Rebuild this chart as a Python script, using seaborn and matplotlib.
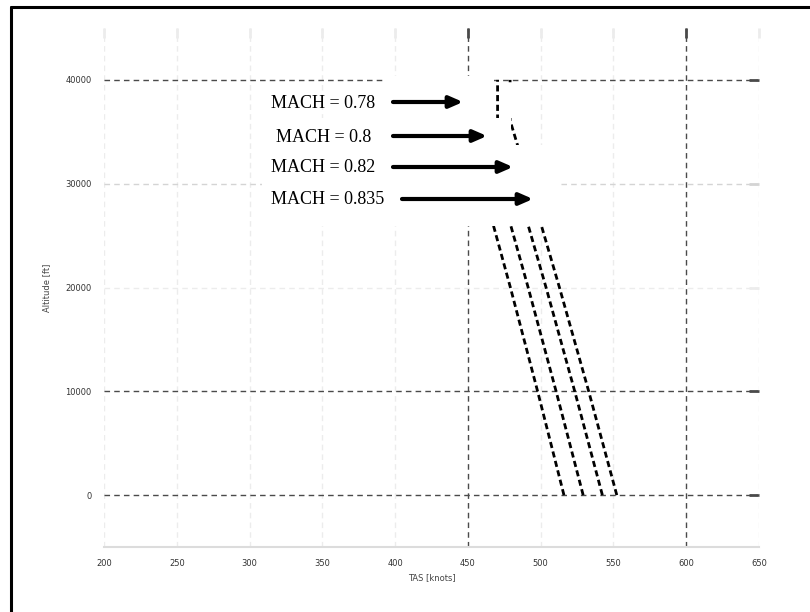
import numpy as np
import pandas as pd
import matplotlib
matplotlib.use("Agg")
import matplotlib.pyplot as plt
import seaborn as sns
from matplotlib.lines import Line2D
from matplotlib.patches import Rectangle

# Altitude (ft) and true airspeed (knots) at constant Mach number
altitude_ft = [0, 10000, 20000, 30000, 36089, 40000]
tas_m078 = [516.0, 497.9, 479.2, 459.7, 447.4, 447.4]
tas_m080 = [529.2, 510.6, 491.4, 471.4, 458.9, 458.9]
tas_m082 = [542.4, 523.4, 503.7, 483.2, 470.4, 470.4]
tas_m0835 = [552.3, 533.0, 512.9, 492.1, 479.0, 479.0]
mach_labels = ["MACH = 0.78", "MACH = 0.8", "MACH = 0.82", "MACH = 0.835"]

x_ticks = [200, 250, 300, 350, 400, 450, 500, 550, 600, 650]
y_ticks = [0, 10000, 20000, 30000, 40000]
x_label = "TAS [knots]"
y_label = "Altitude [ft]"

series = [tas_m078, tas_m080, tas_m082, tas_m0835]
df = pd.concat(
    [pd.DataFrame({"tas": s, "alt": altitude_ft, "mach": m})
     for s, m in zip(series, mach_labels)],
    ignore_index=True,
)

sns.set_theme(style="white")
W, H = 810, 612
fig = plt.figure(figsize=(W / 100, H / 100), dpi=100)
ax_l, ax_r, ax_t, ax_b = 104, 759, 28, 547
ax = fig.add_axes([ax_l / W, 1 - ax_b / H, (ax_r - ax_l) / W, (ax_b - ax_t) / H])


def frac(px, py):
    """Layout pixel position -> axes fraction."""
    return ((px - ax_l) / (ax_r - ax_l), (ax_b - py) / (ax_b - ax_t))


sns.lineplot(
    data=df, x="tas", y="alt", hue="mach", units="mach", estimator=None,
    sort=False, palette=["black"] * 4, legend=False, ax=ax, zorder=2,
    linewidth=2.0,
)
for ln in ax.get_lines():
    ln.set_linestyle((0, (2.2, 1.3)))

ax.set_xlim(200, 650)
ax.set_ylim(-5000, 45000)
ax.set_xticks(x_ticks)
ax.set_yticks(y_ticks)
ax.set_xticklabels([str(v) for v in x_ticks])
ax.set_yticklabels([str(v) for v in y_ticks])
ax.set_xlabel(x_label, fontsize=6, color="#444", labelpad=3)
ax.set_ylabel(y_label, fontsize=6, color="#444", labelpad=10)

# dashed grid, a few lines darker than the rest
dark, light, faint = "#4a4a4a", "#d4d4d4", "#ececec"
x_grid_col = [faint, faint, faint, faint, faint, dark, faint, faint, dark, faint]
y_grid_col = [dark, dark, faint, light, dark]
for v, c in zip(x_ticks, x_grid_col):
    ax.axvline(v, color=c, ls=(0, (4, 3)), lw=1.0, zorder=1)
for v, c in zip(y_ticks, y_grid_col):
    ax.axhline(v, color=c, ls=(0, (4, 3)), lw=1.0, zorder=1)

ax.tick_params(direction="in", length=7, width=2, pad=9, labelsize=6,
               labelcolor="#333", top=True, right=True)


def tint_ticks(axis, colors):
    for t, c in zip(axis.get_major_ticks(), colors):
        for tl in (t.tick1line, t.tick2line):
            tl.set_color(c)
            tl.set_markeredgecolor(c)
            tl.set_markerfacecolor(c)


tint_ticks(ax.xaxis, x_grid_col)
tint_ticks(ax.yaxis, y_grid_col)

for side in ["top", "right", "left"]:
    ax.spines[side].set_visible(False)
ax.spines["bottom"].set_color("#dcdcdc")
ax.spines["bottom"].set_linewidth(1.5)

# white label panels laid over the upper part of the curves
panels = [(383, 76, 494, 120), (502, 83, 530, 118),
          (262, 118, 511, 150), (262, 145, 560, 226)]
for x0, y0, x1, y1 in panels:
    fx0, fy1 = frac(x0, y1)
    fx1, fy0 = frac(x1, y0)
    ax.add_patch(Rectangle((fx0, fy1), fx1 - fx0, fy0 - fy1,
                           transform=ax.transAxes, facecolor="white",
                           edgecolor="none", zorder=3, clip_on=False))

# Mach labels with arrows pointing at each curve
label_pos = [(323, 104), (324, 137), (323, 168), (328, 199)]
arrow_pos = [((393, 102), (463, 102)), ((393, 136), (487, 136)),
             ((393, 167), (513, 167)), ((402, 199), (533, 199))]
for lab, (tx, ty), (a0, a1) in zip(mach_labels, label_pos, arrow_pos):
    ax.text(*frac(tx, ty), lab, transform=ax.transAxes, ha="center",
            va="center", fontsize=13, family="Liberation Serif",
            color="black", zorder=5)
    ax.annotate("", xy=frac(*a1), xytext=frac(*a0), xycoords="axes fraction",
                textcoords="axes fraction", zorder=5,
                arrowprops=dict(arrowstyle="-|>,head_length=0.8,head_width=0.35",
                                mutation_scale=10, lw=3, color="black",
                                shrinkA=0, shrinkB=0))

# outer frame lines
fig.add_artist(Line2D([11 / W, 1.0], [1 - 7 / H, 1 - 7 / H],
                      transform=fig.transFigure, color="black", lw=2.2))
fig.add_artist(Line2D([11 / W, 11 / W], [0.0, 1 - 7 / H],
                      transform=fig.transFigure, color="black", lw=2.2))

fig.savefig("out.png", dpi=100, facecolor="white")
